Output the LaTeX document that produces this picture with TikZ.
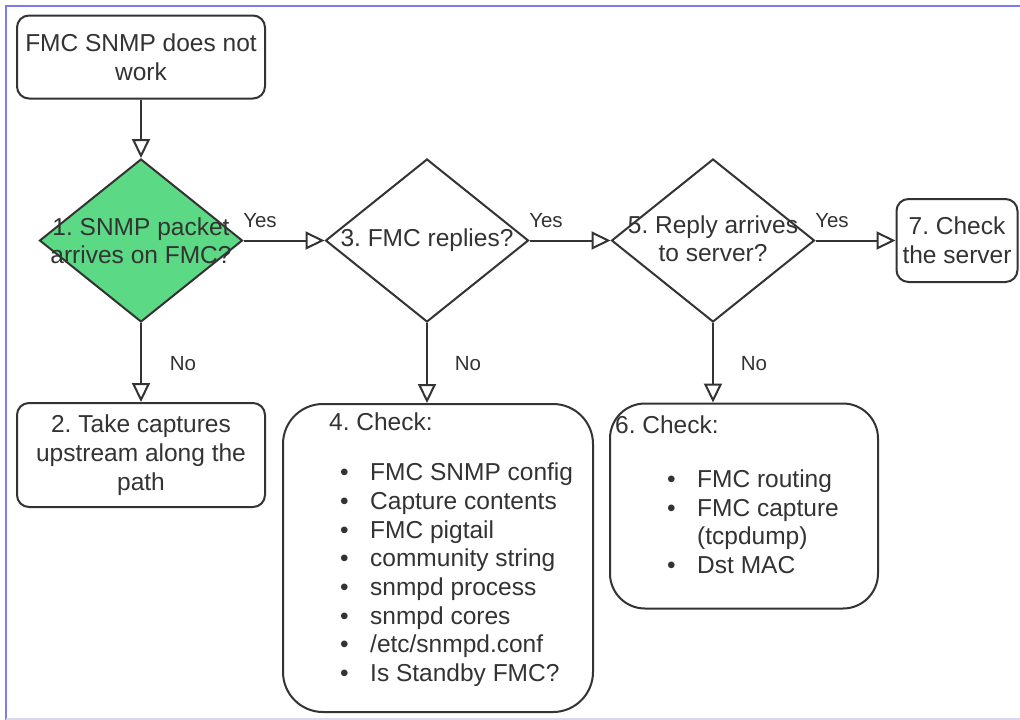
\documentclass[tikz,border=0pt]{standalone}
\usepackage{fontspec}
\setmainfont{Liberation Sans}
\usetikzlibrary{shapes.geometric,arrows.meta,calc}
\definecolor{ink}{HTML}{333333}
\definecolor{dgreen}{HTML}{5CD984}
\definecolor{frameblue}{HTML}{7B7BEF}
\definecolor{framelav}{HTML}{D8D8F2}
\frenchspacing
\begin{document}
\begin{tikzpicture}[x=1pt,y=-1pt,
  box/.style={draw=ink, line width=2pt, rounded corners=12pt, align=center, text=ink,
    font=\fontsize{24.5}{29}\selectfont, inner sep=0pt},
  bigbox/.style={draw=ink, line width=2pt, inner sep=0pt},
  dia/.style={diamond, draw=ink, line width=2pt, minimum width=203pt, minimum height=163pt, inner sep=0pt},
  dtext/.style={align=center, text=ink, font=\fontsize{24.5}{28}\selectfont, inner sep=0pt},
  txt/.style={text=ink, font=\fontsize{24.5}{28}\selectfont, inner sep=0pt, text height=17.5pt, text depth=0pt, anchor=west},
  lbl/.style={text=ink, font=\fontsize{20.5}{24}\selectfont, inner sep=0pt, text height=14.5pt, text depth=0pt},
  arr/.style={draw=ink, line width=2pt, -{Triangle[length=19pt, width=18pt, fill=white]}}
]
\useasboundingbox (0,0) rectangle (1020,720);
\fill[white] (0,0) rectangle (1020,720);
% frame
\draw[frameblue, line width=2pt] (6,720) -- (6,6) -- (1020,6);
\draw[framelav, line width=1.5pt] (6,719) -- (1020,719);

% nodes
\node[box, minimum width=248pt, minimum height=83pt] (n0) at (141,57) {FMC SNMP does not\\work};
\node[dia, fill=dgreen] (d1) at (141,240.5) {};
\node[dtext] (t1) at (d1.center) {1. SNMP packet\\arrives on FMC?};
\node[dia] (d3) at (427,240.5) {};
\node[dtext] (t3) at (d3.center) {3. FMC replies?};
\node[dia] (d5) at (713,240.5) {};
\node[dtext] (t5) at ($(d5.center)+(0,-2)$) {5. Reply arrives\\to server?};
\node[box, minimum width=121pt, minimum height=83pt] (n7) at (957,240.5) {7. Check\\the server};
\node[box, minimum width=248pt, minimum height=104pt] (n2) at (141,455) {2. Take captures\\upstream along the\\path};

\node[bigbox, rounded corners=40pt, minimum width=310pt, minimum height=308pt] (n4) at (438,558) {};
\node[txt] (n4h) at (329,422) {4. Check:};
\foreach \t [count=\i] in {FMC SNMP config, Capture contents, FMC pigtail, community string, snmpd process, snmpd cores, /etc/snmpd.conf, Is Standby FMC?}
  \node[txt] (n4i\i) at (340,{472+28.7*(\i-1)}) {\makebox[30pt][l]{\textbullet}\t};

\node[bigbox, rounded corners=35pt, minimum width=268pt, minimum height=205pt] (n6) at (744,506) {};
\node[txt] (n6h) at (615,425) {6. Check:};
\node[txt] (n6a) at (667,479) {\makebox[30pt][l]{\textbullet}FMC routing};
\node[txt] (n6b) at (667,508) {\makebox[30pt][l]{\textbullet}FMC capture};
\node[txt] (n6c) at (697,536) {(tcpdump)};
\node[txt] (n6d) at (667,565) {\makebox[30pt][l]{\textbullet}Dst MAC};

% connectors
\draw[arr] (n0.south) -- (d1.north);
\draw[arr] (d1.east) -- (d3.west);
\draw[arr] (d3.east) -- (d5.west);
\draw[arr] (d5.east) -- (n7.west);
\draw[arr] (d1.south) -- (n2.north);
\draw[arr] (d3.south) -- (d3.south |- n4.north);
\draw[arr] (d5.south) -- (d5.south |- n6.north);

% labels
\node[lbl] (y1) at (260,220) {Yes};
\node[lbl] (y3) at (546,220) {Yes};
\node[lbl] (y5) at (832,220) {Yes};
\node[lbl] (no1) at (183,363) {No};
\node[lbl] (no3) at (468,363) {No};
\node[lbl] (no5) at (754,363) {No};
\end{tikzpicture}
\end{document}
